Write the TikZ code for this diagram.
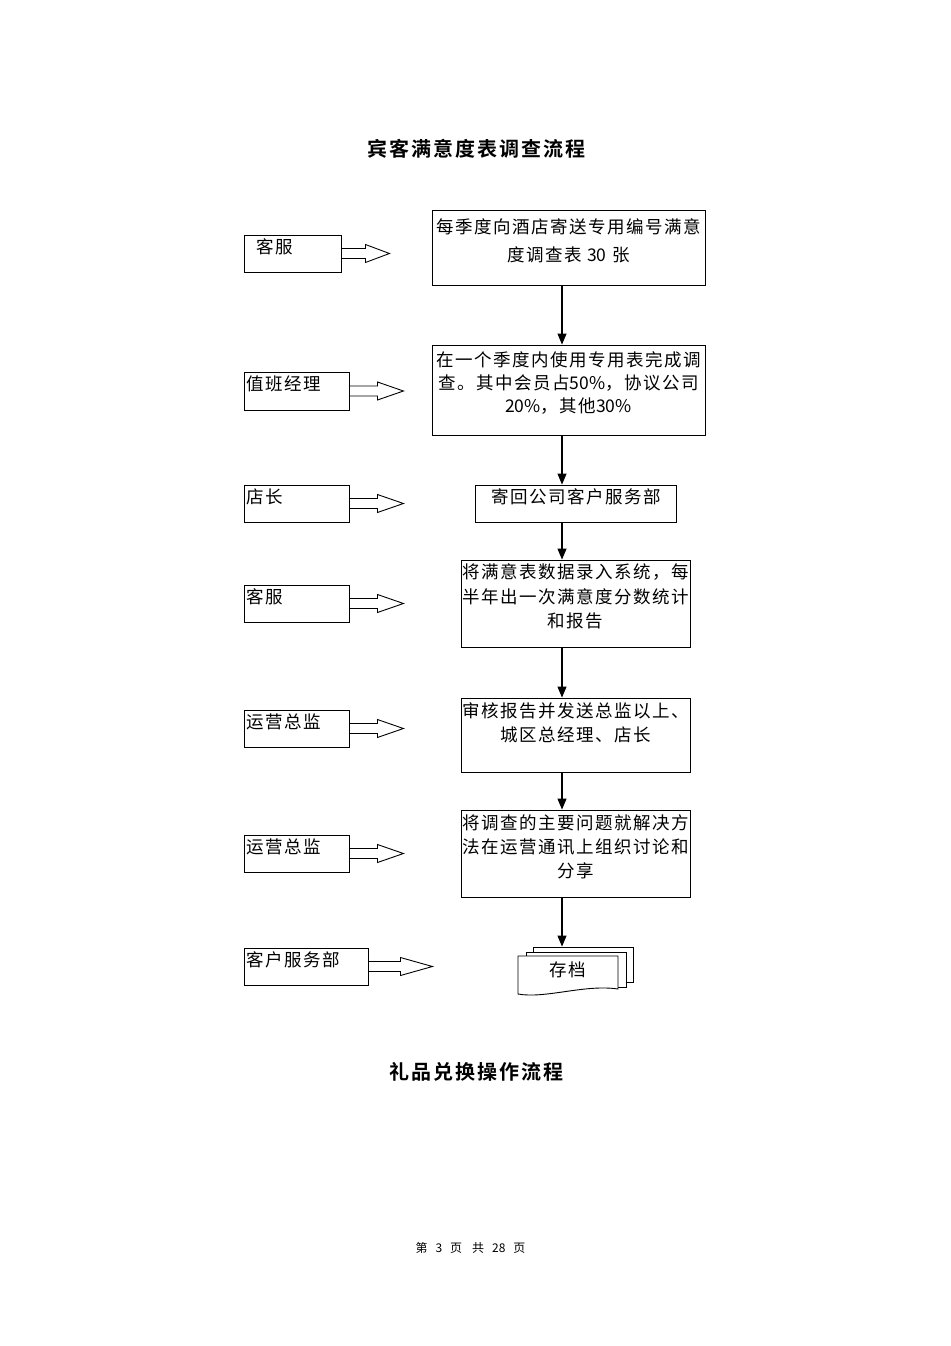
\documentclass[tikz,border=0pt]{standalone}
\usepackage{fontspec}
\usetikzlibrary{arrows.meta,calc}
\newfontfamily\cjk{Noto Sans CJK SC}[LetterSpace=8.5]
\newfontfamily\cjkt{Noto Sans CJK SC}[LetterSpace=10,BoldFont={Noto Sans CJK SC Bold}]
\newfontfamily\cjkf{Noto Sans CJK SC}
\newcommand\num[1]{{\cjkf #1}}
\newcommand\barr[3]{\draw[barrow] (#1.east) ++(0,-5) -- ++(#2,0) -- ++(0,-4) -- ++(#3,9) -- ++(-#3,9) -- ++(0,-4) -- ++(-#2,0) -- cycle;}
\begin{document}
\begin{tikzpicture}[x=1pt,y=-1pt,line width=0.9pt,
  box/.style={draw=black,fill=white,inner sep=0pt},
  mtxt/.style={font=\cjk\fontsize{17.5}{24}\selectfont,align=center,inner sep=0pt},
  ltxt/.style={font=\cjk\fontsize{17.5}{24}\selectfont,anchor=west,inner sep=0pt},
  ttl/.style={font=\cjkt\bfseries\fontsize{20}{20}\selectfont,inner sep=0pt},
  flow/.style={line width=1.1pt,-{Triangle[width=9pt,length=11pt]}},
  barrow/.style={draw=black,fill=white,line join=miter}]
\useasboundingbox (0,0) rectangle (950,1346);
\fill[white] (0,0) rectangle (950,1346);

\node[ttl] (title1) at (476,149) {宾客满意度表调查流程};

% main boxes
\node[box,minimum width=273pt,minimum height=75pt] (b1) at (568.5,247.5) {};
\node[box,minimum width=273pt,minimum height=90pt] (b2) at (568.5,390) {};
\node[box,minimum width=201pt,minimum height=37pt] (b3) at (575.5,503.5) {};
\node[box,minimum width=229pt,minimum height=87pt] (b4) at (575.5,603.5) {};
\node[box,minimum width=229pt,minimum height=74pt] (b5) at (575.5,735) {};
\node[box,minimum width=229pt,minimum height=87pt] (b6) at (575.5,853.5) {};

\node[mtxt,font=\cjk\fontsize{17.5}{28}\selectfont] (t1) at (568.5,241) {每季度向酒店寄送专用编号满意\\度调查表 \num{30} 张};
\node[mtxt,font=\cjk\fontsize{17.5}{23}\selectfont] (t2) at (568.5,383) {在一个季度内使用专用表完成调\\查。其中会员占\num{50\%}，协议公司\\\num{20\%}，其他\num{30\%}};
\node[mtxt] (t3) at (576,497) {寄回公司客户服务部};
\node[mtxt,font=\cjk\fontsize{17.5}{24.5}\selectfont] (t4) at (575.5,596.5) {将满意表数据录入系统，每\\半年出一次满意度分数统计\\和报告};
\node[mtxt] (t5) at (575.5,723) {审核报告并发送总监以上、\\城区总经理、店长};
\node[mtxt] (t6) at (575.5,847) {将调查的主要问题就解决方\\法在运营通讯上组织讨论和\\分享};

% document stack
\node[box,minimum width=100pt,minimum height=35pt] (d3) at (583,964.5) {};
\node[box,minimum width=100pt,minimum height=35pt] (d2) at (576,969.5) {};
\draw[fill=white] (518,956) -- (618,956) -- (618,989) .. controls (585,984) and (545,999) .. (518,994) -- cycle;
\node[mtxt] (doc) at (568,970) {存档};

% flow arrows
\coordinate (ax) at (562,0);
\draw[flow] (b1.south -| ax) -- (b2.north -| ax);
\draw[flow] (b2.south -| ax) -- (b3.north -| ax);
\draw[flow] (b3.south -| ax) -- (b4.north -| ax);
\draw[flow] (b4.south -| ax) -- (b5.north -| ax);
\draw[flow] (b5.south -| ax) -- (b6.north -| ax);
\draw[flow] (b6.south -| ax) -- (d3.north -| ax);

% left role boxes
\node[box,minimum width=97pt,minimum height=37pt] (l1) at (292.5,253.5) {};
\node[box,minimum width=105pt,minimum height=38pt] (l2) at (296.5,391) {};
\node[box,minimum width=105pt,minimum height=37pt] (l3) at (296.5,503.5) {};
\node[box,minimum width=105pt,minimum height=37pt] (l4) at (296.5,603.5) {};
\node[box,minimum width=105pt,minimum height=37pt] (l5) at (296.5,728.5) {};
\node[box,minimum width=105pt,minimum height=37pt] (l6) at (296.5,853.5) {};
\node[box,minimum width=124pt,minimum height=37pt] (l7) at (306,966.5) {};

\node[ltxt] (lt1) at (256,247) {客服};
\node[ltxt] (lt2) at (246,384) {值班经理};
\node[ltxt] (lt3) at (246,497) {店长};
\node[ltxt] (lt4) at (246,597) {客服};
\node[ltxt] (lt5) at (246,722) {运营总监};
\node[ltxt] (lt6) at (246,847) {运营总监};
\node[ltxt] (lt7) at (246,960) {客户服务部};

\barr{l1}{24}{24}
\barr{l2}{28}{26}
\barr{l3}{28}{26}
\barr{l4}{28}{26}
\barr{l5}{28}{26}
\barr{l6}{28}{26}
\barr{l7}{32}{32}

\node[ttl] (title2) at (476,1072) {礼品兑换操作流程};
\node[font=\cjkf\fontsize{12}{12}\selectfont,inner sep=0pt] (footer) at (470.5,1248) {第\hspace{8pt}3\hspace{8pt}页\hspace{10pt}共\hspace{8pt}28\hspace{8pt}页};
\end{tikzpicture}
\end{document}
